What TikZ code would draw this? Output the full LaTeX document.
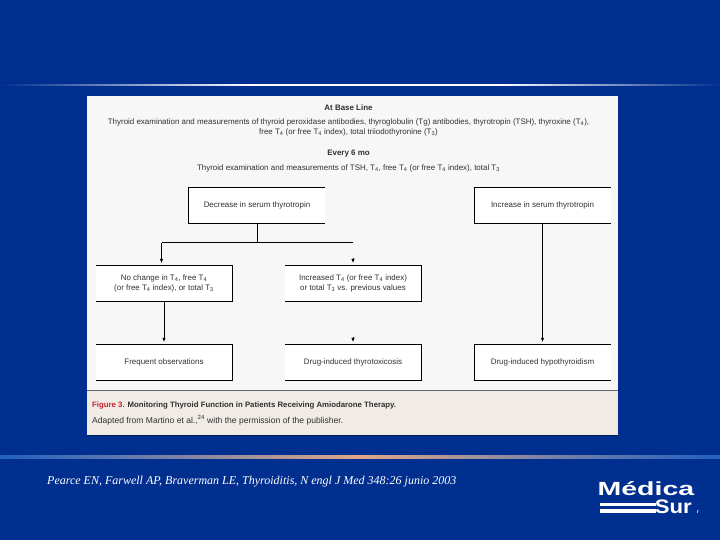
\documentclass[tikz,border=0pt]{standalone}
\usepackage{fontspec}
\setmainfont{Liberation Sans}
\newfontfamily\citefont{Liberation Serif}
\usetikzlibrary{arrows.meta}
\definecolor{slideblue}{HTML}{002F8F}
\definecolor{glowblue}{HTML}{0033BE}
\definecolor{peach}{HTML}{E0A888}
\definecolor{ruleblue}{HTML}{2060C0}
\definecolor{panelgrey}{HTML}{F7F7F7}
\definecolor{captionbg}{HTML}{F1EBE6}
\definecolor{figred}{HTML}{C8202F}
\definecolor{inkgrey}{HTML}{303030}
\newcommand{\Tn}[1]{T\textsubscript{#1}}
\begin{document}
\begin{tikzpicture}[
  x=1pt, y=-1pt,
  chart text/.style={font=\fontsize{7.95}{10}\selectfont, text=inkgrey, align=center, inner sep=0pt},
  head text/.style={chart text, font=\fontsize{7.95}{10}\bfseries\selectfont},
  flow box/.style={chart text, fill=white, minimum width=136pt, minimum height=36pt},
  open line/.style={black, line width=0.9pt},
  flow arrow/.style={black, line width=0.9pt, -{Latex[length=4.5pt,width=3.5pt]}, shorten >=2pt},
  caption text/.style={font=\fontsize{7.8}{10}\selectfont, text=inkgrey, anchor=west, inner sep=0pt},
  logo text/.style={text=white, inner sep=0pt, anchor=base east}
]
  \useasboundingbox (0,0) rectangle (720,540);

  % Slide background
  \fill[slideblue] (0,0) rectangle (720,540);
  \shade[left color=slideblue, middle color=glowblue, right color=slideblue] (0,86) rectangle (720,456);

  % Rules
  \shade[left color=slideblue, right color=white] (0,84.2) rectangle (250,86);
  \fill[white] (250,84.2) rectangle (500,86);
  \shade[left color=white, right color=slideblue] (500,84.2) rectangle (720,86);
  \shade[left color=ruleblue, right color=peach] (0,455) rectangle (360,458);
  \shade[left color=peach, right color=ruleblue] (360,455) rectangle (720,458);

  % Panel
  \fill[panelgrey] (87,96) rectangle (618,390);
  \fill[captionbg] (87,390) rectangle (618,435);
  \draw[black!60, line width=0.6pt] (87,390) -- (618,390);
  \draw[slideblue!60!black, line width=0.8pt] (87,435.4) -- (618,435.4);

  % Header text
  \node[head text] (baseline) at (348.5,107.5) {At Base Line};
  \node[chart text] (basetext) at (348.5,127.5) {Thyroid examination and measurements of thyroid peroxidase antibodies, thyroglobulin (Tg) antibodies, thyrotropin (TSH), thyroxine (\Tn{4}),\\free \Tn{4} (or free \Tn{4} index), total triiodothyronine (\Tn{3})};
  \node[head text] (every) at (348.5,154) {Every 6 mo};
  \node[chart text] (everytext) at (348.5,168) {Thyroid examination and measurements of TSH, \Tn{4}, free \Tn{4} (or free \Tn{4} index), total \Tn{3}};

  % Boxes
  \node[flow box] (decrease) at (257,205.5) {Decrease in serum thyrotropin};
  \node[flow box] (increase) at (542.5,205.5) {Increase in serum thyrotropin};
  \node[flow box] (nochange) at (164,283.5) {No change in \Tn{4}, free \Tn{4}\\(or free \Tn{4} index), or total \Tn{3}};
  \node[flow box] (raised) at (353,283.5) {Increased \Tn{4} (or free \Tn{4} index)\\or total \Tn{3} vs. previous values};
  \node[flow box] (frequent) at (164,362.5) {Frequent observations};
  \node[flow box] (toxic) at (353,362.5) {Drug-induced thyrotoxicosis};
  \node[flow box] (hypo) at (542.5,362.5) {Drug-induced hypothyroidism};

  % Box outlines, open on one side
  \draw[open line] (decrease.north east) -- (decrease.north west) -- (decrease.south west) -- (decrease.south east);
  \draw[open line] (increase.north east) -- (increase.north west) -- (increase.south west) -- (increase.south east);
  \draw[open line] (nochange.north west) -- (nochange.north east) -- (nochange.south east) -- (nochange.south west);
  \draw[open line] (raised.north west) -- (raised.north east) -- (raised.south east) -- (raised.south west);
  \draw[open line] (frequent.north west) -- (frequent.north east) -- (frequent.south east) -- (frequent.south west);
  \draw[open line] (toxic.north west) -- (toxic.north east) -- (toxic.south east) -- (toxic.south west);
  \draw[open line] (hypo.north east) -- (hypo.north west) -- (hypo.south west) -- (hypo.south east);

  % Connectors
  \coordinate (fork) at (257.5,242.5);
  \coordinate (forkleft) at (161.5,242.5);
  \coordinate (forkright) at (353,242.5);
  \coordinate (tipraised) at (353,258);
  \coordinate (tiptoxic) at (353,337);
  \draw[open line] (decrease.south -| fork) -- (fork);
  \draw[open line] (forkright) -- (forkleft);
  \draw[flow arrow] (forkleft) -- (forkleft |- nochange.north);
  \draw[flow arrow] (tipraised) -- (raised.north);
  \draw[flow arrow] (tiptoxic) -- (toxic.north);
  \draw[flow arrow] (nochange.south) -- (frequent.north);
  \draw[flow arrow] (increase.south) -- (hypo.north);

  % Caption
  \node[caption text] (figtitle) at (92,405) {\textcolor{figred}{\bfseries Figure 3.} \textbf{Monitoring Thyroid Function in Patients Receiving Amiodarone Therapy.}};
  \node[caption text, font=\fontsize{8.55}{10}\selectfont] (figsource) at (92,420) {Adapted from Martino et al.,\textsuperscript{24} with the permission of the publisher.};

  % Citation
  \node[font=\citefont\itshape\fontsize{12}{13}\selectfont, text=white, anchor=west, inner sep=0pt] (citation) at (47,481.5) {Pearce EN, Farwell AP, Braverman LE, Thyroiditis, N engl J Med 348:26 junio 2003};

  % Logo
  \node[logo text, font=\bfseries\fontsize{19}{19}\selectfont, xscale=1.5] (medica) at (694.5,495.5) {Médica};
  \node[logo text, font=\bfseries\fontsize{17}{17}\selectfont, xscale=1.3, yscale=1.15] (sur) at (692,513) {Sur};
  \fill[white] (600,503) rectangle (656,506);
  \fill[white] (600,508.5) rectangle (656,513);
  \node[logo text, font=\bfseries\fontsize{5}{5}\selectfont] (regmark) at (699,513) {r};
\end{tikzpicture}
\end{document}
